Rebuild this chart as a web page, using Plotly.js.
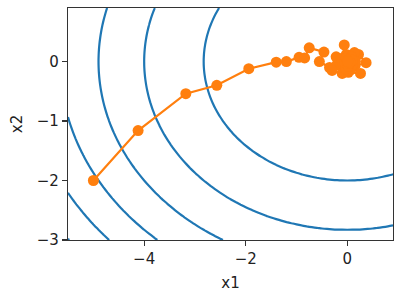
<!DOCTYPE html>
<html>
<head>
<meta charset="utf-8">
<script src="https://cdn.plot.ly/plotly-3.0.1.min.js"></script>
<style>html,body{margin:0;padding:0;background:#fff;}#chart{width:402px;height:296px;}</style>
</head>
<body>
<div id="chart"></div>
<script>
// Objective f(x1, x2) = x1^2 + 2*x2^2 evaluated on the plotting grid
const gridX1Start = -5.5, gridX1End = 0.9;
const gridX2Start = -3.0, gridX2End = 0.9;
const gridStep = 0.1;
const contourLevels = {start: 8, end: 48, size: 8};

// SGD trajectory
const trajX1 = [-5.0, -4.12, -3.18, -2.57, -1.94, -1.40, -1.20, -0.95, -0.84, -0.75, -0.46,
  -0.55, -0.35, -0.20, -0.30, -0.10, 0.05, -0.06, -0.02, 0.10, 0.22, 0.37, 0.15, 0.26, 0.02,
  -0.15, -0.05, 0.08, 0.02, -0.10, 0.14, 0.00, -0.22, 0.05, 0.16, -0.08, 0.03, 0.10, -0.03,
  0.06, -0.12, 0.00, 0.08, -0.05, 0.02, 0.10, -0.02, 0.04, 0.00, 0.05, 0.01];
const trajX2 = [-2.0, -1.16, -0.54, -0.40, -0.12, -0.01, 0.00, 0.07, 0.06, 0.23, 0.16,
  0.00, -0.10, -0.05, -0.15, -0.20, -0.05, 0.28, 0.12, 0.05, 0.12, -0.02, -0.08, -0.20, -0.18,
  0.00, 0.05, -0.10, 0.02, -0.10, 0.15, 0.00, 0.08, -0.15, 0.00, -0.05, 0.10, -0.05, -0.12,
  0.04, 0.05, -0.05, 0.08, -0.02, -0.08, 0.02, 0.05, -0.03, 0.02, -0.01, 0.00];

const xTicks = [-4, -2, 0];
const yTicks = [-3, -2, -1, 0];

function f(x1, x2) { return x1 * x1 + 2 * x2 * x2; }

const gx = [], gy = [];
for (let i = 0; gridX1Start + i * gridStep <= gridX1End + 1e-9; i++) gx.push(+(gridX1Start + i * gridStep).toFixed(2));
for (let j = 0; gridX2Start + j * gridStep <= gridX2End + 1e-9; j++) gy.push(+(gridX2Start + j * gridStep).toFixed(2));
const gz = gy.map(b => gx.map(a => f(a, b)));

const font = {family: 'DejaVu Sans, sans-serif', size: 15, color: '#222'};

const data = [
  {
    type: 'contour', x: gx, y: gy, z: gz,
    contours: {coloring: 'lines', start: contourLevels.start, end: contourLevels.end, size: contourLevels.size, showlabels: false},
    colorscale: [[0, '#1f77b4'], [1, '#1f77b4']],
    showscale: false,
    line: {width: 2.2, smoothing: 1},
    hoverinfo: 'skip'
  },
  {
    type: 'scatter', mode: 'lines+markers', x: trajX1, y: trajX2,
    line: {color: '#ff7f0e', width: 2.2},
    marker: {color: '#ff7f0e', size: 11},
    showlegend: false
  }
];

const axisCommon = {
  showgrid: false, zeroline: false, showline: true, mirror: true,
  linecolor: '#333', linewidth: 1.2,
  ticks: 'outside', ticklen: 5, tickwidth: 1.2, tickcolor: '#333',
  tickfont: font
};

const layout = {
  width: 402, height: 296,
  margin: {l: 68, r: 9, t: 8, b: 56},
  paper_bgcolor: '#fff', plot_bgcolor: '#fff',
  showlegend: false,
  xaxis: Object.assign({}, axisCommon, {
    range: [gridX1Start, gridX1End], tickmode: 'array', tickvals: xTicks,
    title: {text: 'x1', font: font, standoff: 10}
  }),
  yaxis: Object.assign({}, axisCommon, {
    range: [gridX2Start, gridX2End], tickmode: 'array', tickvals: yTicks,
    title: {text: 'x2', font: font, standoff: 10}
  })
};

Plotly.newPlot('chart', data, layout, {displayModeBar: false, staticPlot: true});
</script>
</body>
</html>
